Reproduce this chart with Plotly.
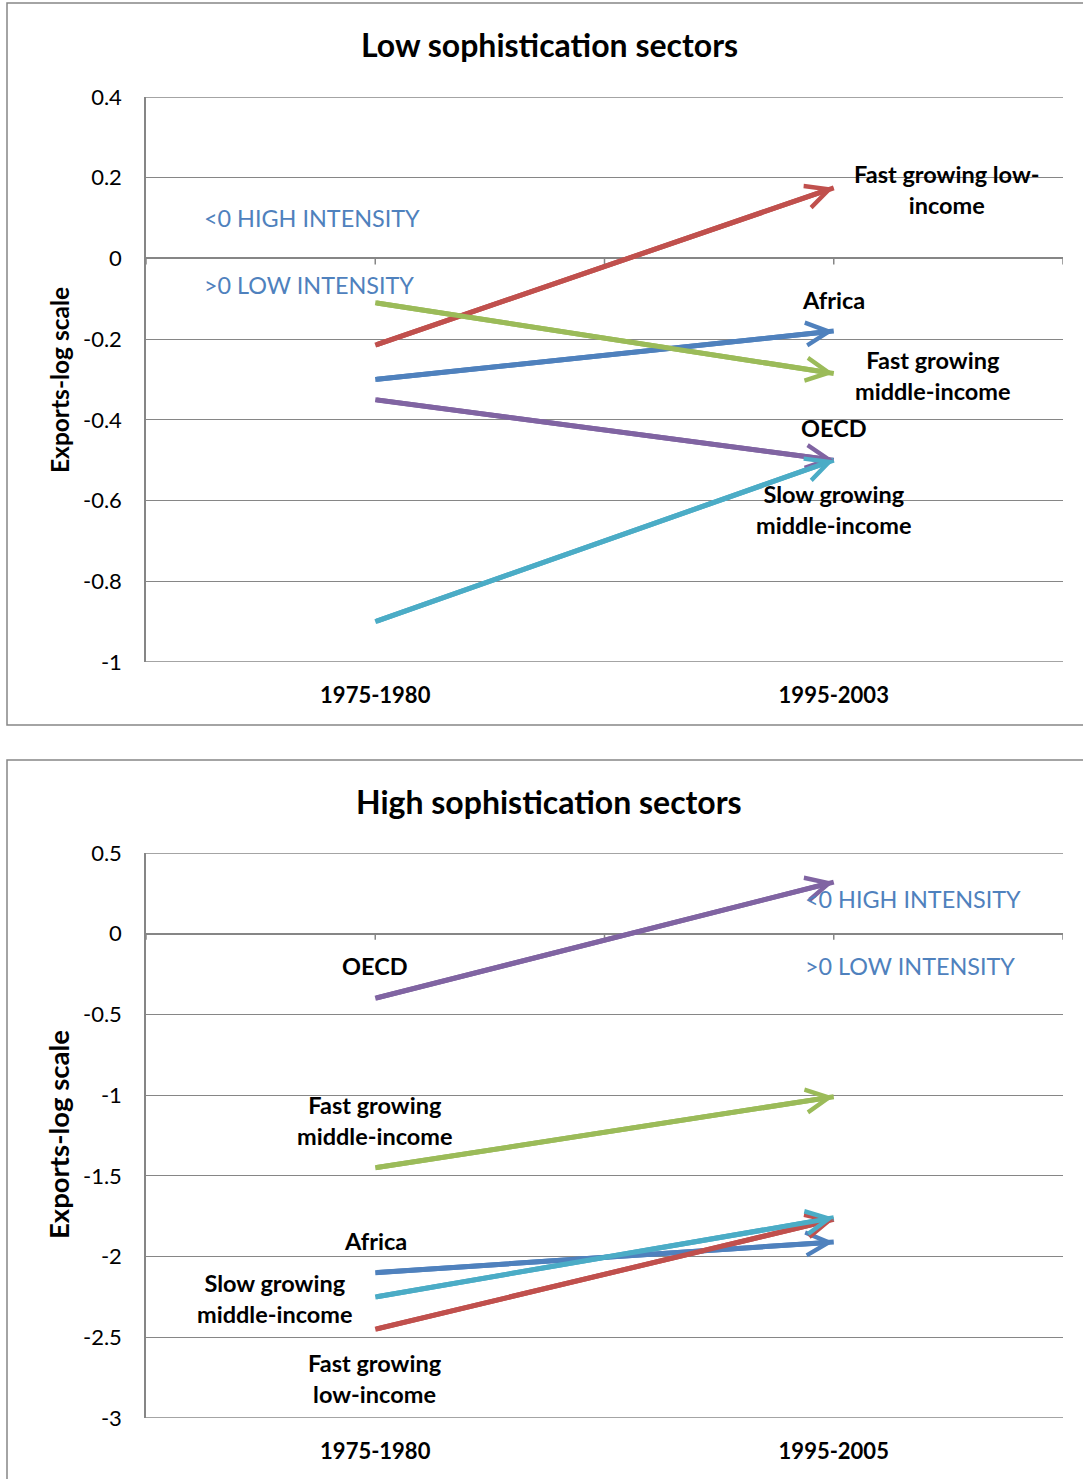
import plotly.graph_objects as go

# ---- data -------------------------------------------------------------
series = ["Africa", "Fast growing low-income", "Fast growing middle-income",
          "OECD", "Slow growing middle-income"]
colors = ["#4F81BD", "#C0504D", "#9BBB59", "#8064A2", "#4BACC6"]

low_periods = ["1975-1980", "1995-2003"]
low_start = [-0.30, -0.215, -0.11, -0.35, -0.90]
low_end = [-0.18, 0.175, -0.285, -0.50, -0.50]

high_periods = ["1975-1980", "1995-2005"]
high_start = [-2.10, -2.45, -1.45, -0.40, -2.25]
high_end = [-1.91, -1.77, -1.01, 0.32, -1.76]

low_yticks = [0.4, 0.2, 0, -0.2, -0.4, -0.6, -0.8, -1]
low_ytext = ["0.4", "0.2", "0", "-0.2", "-0.4", "-0.6", "-0.8", "-1"]
high_yticks = [0.5, 0, -0.5, -1, -1.5, -2, -2.5, -3]
high_ytext = ["0.5", "0", "-0.5", "-1", "-1.5", "-2", "-2.5", "-3"]

# ---- layout helpers ---------------------------------------------------
W, H = 1083, 1479
FONT = "Lato, Carlito, Calibri, sans-serif"
GRID = "#868686"


def px(x):
    return x / W


def py(y):
    return 1 - y / H


fig = go.Figure()

panels = [
    dict(xa="x", ya="y", periods=low_periods, start=low_start, end=low_end,
         yr=[-1, 0.4]),
    dict(xa="x2", ya="y2", periods=high_periods, start=high_start, end=high_end,
         yr=[-3, 0.5]),
]

annotations = []
shapes = []

for p in panels:
    for name, col, s, e in zip(series, colors, p["start"], p["end"]):
        fig.add_trace(go.Scatter(
            x=[0, 1], y=[s, e], mode="lines", name=name,
            line=dict(color=col, width=5),
            xaxis=p["xa"], yaxis=p["ya"], showlegend=False,
            hoverinfo="skip",
        ))
        # open arrowhead at the later period
        annotations.append(dict(
            x=1, y=e, ax=0, ay=s, xref=p["xa"], yref=p["ya"],
            axref=p["xa"], ayref=p["ya"], text="", showarrow=True,
            arrowhead=5, arrowsize=0.9, arrowwidth=5, arrowcolor=col,
            standoff=0, startstandoff=0,
        ))
    # category tick marks on the zero line
    for xv in [-0.5, 0, 0.5, 1, 1.5]:
        shapes.append(dict(
            type="line", xref=p["xa"], yref=p["ya"], x0=xv, x1=xv,
            ysizemode="pixel", yanchor=0, y0=0, y1=-6,
            line=dict(color=GRID, width=1.5),
        ))
    # gridlines at both ends of the value range
    for yv in p["yr"]:
        shapes.append(dict(
            type="line", xref=p["xa"] + " domain", yref=p["ya"],
            x0=0, x1=1, y0=yv, y1=yv, layer="below",
            line=dict(color=GRID, width=1.4),
        ))

axis_x = dict(range=[-0.5, 1.5], tickvals=[0, 1], showgrid=False,
              zeroline=False, showline=False, ticks="",
              tickfont=dict(family=FONT, size=22, color="black", weight="bold"),
              ticklabelstandoff=18, fixedrange=True, automargin=False)
axis_y = dict(showgrid=True, gridcolor=GRID, gridwidth=1.4,
              showline=True, linecolor=GRID, linewidth=1.5,
              zeroline=True, zerolinecolor=GRID, zerolinewidth=2,
              ticks="", tickfont=dict(family=FONT, size=22, color="black"),
              ticklabelstandoff=18, fixedrange=True, automargin=False)

fig.update_layout(
    xaxis=dict(axis_x, domain=[px(146), px(1063)], anchor="y",
               ticktext=low_periods),
    yaxis=dict(axis_y, domain=[py(662), py(97)], anchor="x",
               range=panels[0]["yr"], tickvals=low_yticks, ticktext=low_ytext),
    xaxis2=dict(axis_x, domain=[px(146), px(1063)], anchor="y2",
                ticktext=high_periods),
    yaxis2=dict(axis_y, domain=[py(1418), py(853)], anchor="x2",
                range=panels[1]["yr"], tickvals=high_yticks, ticktext=high_ytext),
)

# chart-area borders
shapes.append(dict(type="rect", xref="paper", yref="paper",
                   x0=px(7), x1=px(1095), y0=py(725), y1=py(3),
                   line=dict(color=GRID, width=1.5), layer="below"))
shapes.append(dict(type="rect", xref="paper", yref="paper",
                   x0=px(7), x1=px(1095), y0=py(1495), y1=py(760),
                   line=dict(color=GRID, width=1.5), layer="below"))

BOLD = dict(family=FONT, size=23.5, color="black", weight="bold")
BLUE = dict(family=FONT, size=23.4, color="#4F81BD")


def label(text, x, y, xref, yref, font, xanchor="center", angle=0):
    annotations.append(dict(text=text, x=x, y=y, xref=xref, yref=yref,
                            showarrow=False, font=font, xanchor=xanchor,
                            yanchor="middle", align="center",
                            textangle=angle))


# titles
title_font = dict(family=FONT, size=32, color="black", weight="bold")
label("Low sophistication sectors", px(549), py(44), "paper", "paper", title_font)
label("High sophistication sectors", px(549), py(801), "paper", "paper", title_font)

# y-axis titles
label("Exports-log scale", px(59), py(380), "paper", "paper",
      dict(BOLD, size=24.5), angle=-90)
label("Exports-log scale", px(58), py(1135), "paper", "paper",
      dict(BOLD, size=27.5), angle=-90)

# series labels, low sophistication
label("Fast growing low-<br>income", 1.246, 0.172, "x", "y", BOLD)
label("Africa", 1, -0.102, "x", "y", BOLD)
label("Fast growing<br>middle-income", 1.216, -0.289, "x", "y", BOLD)
label("OECD", 1, -0.421, "x", "y", BOLD)
label("Slow growing<br>middle-income", 1, -0.623, "x", "y", BOLD)
label("&lt;0 HIGH INTENSITY", -0.377, 0.099, "x", "y", BLUE, "left")
label("&gt;0 LOW INTENSITY", -0.377, -0.067, "x", "y", BLUE, "left")

# series labels, high sophistication
label("OECD", 0, -0.198, "x2", "y2", BOLD)
label("&lt;0 HIGH INTENSITY", 0.934, 0.217, "x2", "y2", BLUE, "left")
label("&gt;0 LOW INTENSITY", 0.934, -0.198, "x2", "y2", BLUE, "left")
label("Fast growing<br>middle-income", 0, -1.156, "x2", "y2", BOLD)
label("Africa", 0, -1.902, "x2", "y2", BOLD)
label("Slow growing<br>middle-income", -0.218, -2.258, "x2", "y2", BOLD)
label("Fast growing<br>low-income", 0, -2.757, "x2", "y2", BOLD)

fig.update_layout(
    width=W, height=H,
    margin=dict(l=0, r=0, t=0, b=0, pad=0, autoexpand=False),
    paper_bgcolor="white", plot_bgcolor="white",
    font=dict(family=FONT), showlegend=False,
    annotations=annotations, shapes=shapes,
)

fig.write_html("out.html", config={"displayModeBar": False})
